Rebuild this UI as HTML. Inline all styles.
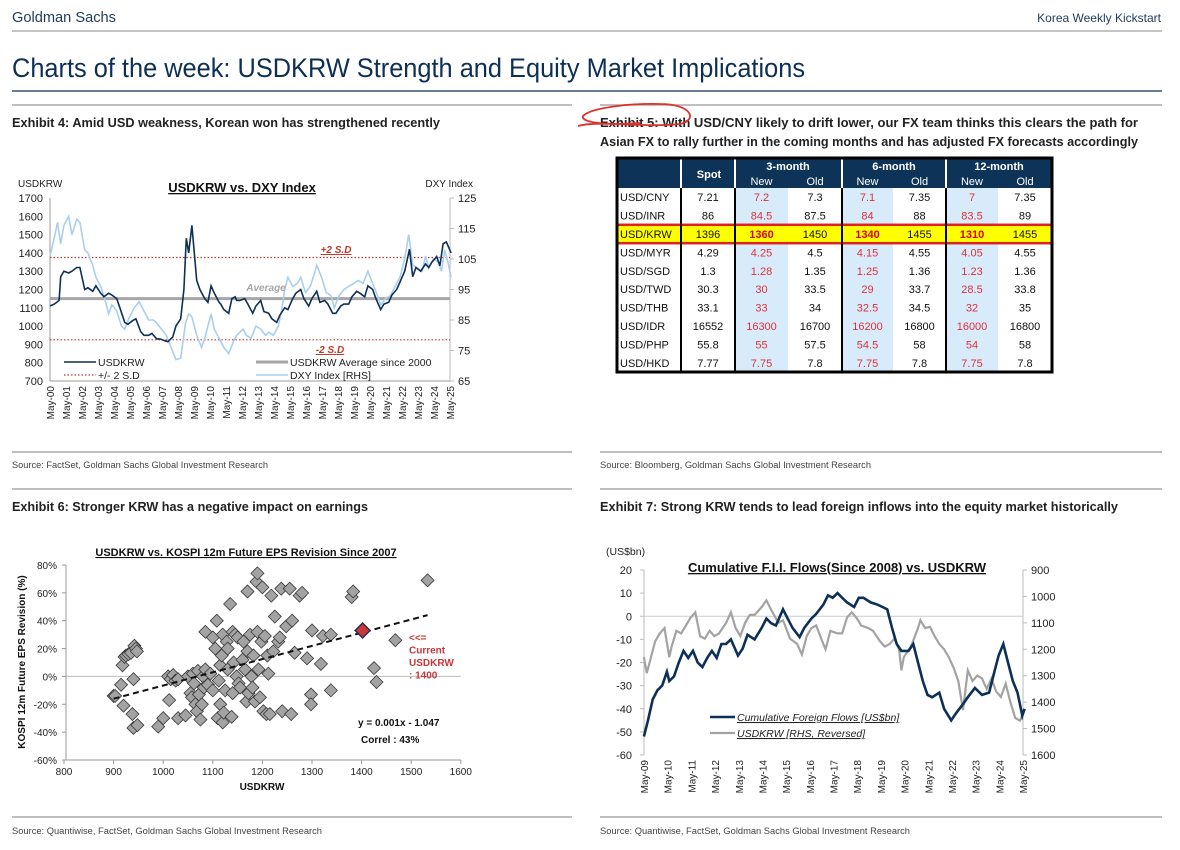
<!DOCTYPE html>
<html><head><meta charset="utf-8"><style>
html,body{margin:0;padding:0;background:#fff;}
svg{display:block;font-family:"Liberation Sans",Arial,sans-serif;}
.nar{font-family:"Liberation Sans Narrow","Liberation Sans",sans-serif;}
</style></head><body>
<svg id="pg" width="1180" height="850" viewBox="0 0 1180 850" xmlns="http://www.w3.org/2000/svg">
<text x="12" y="22" font-size="15" fill="#1d3a5e" class="nar" textLength="104" lengthAdjust="spacingAndGlyphs">Goldman Sachs</text>
<text x="1161" y="22" font-size="12" fill="#1d3a5e" text-anchor="end" class="nar">Korea Weekly Kickstart</text>
<line x1="12" y1="31" x2="1162" y2="31" stroke="#b0b0b0" stroke-width="1.5"/>
<text x="12" y="77" font-size="27" fill="#0d2f54" class="nar" textLength="793" lengthAdjust="spacingAndGlyphs">Charts of the week: USDKRW Strength and Equity Market Implications</text>
<line x1="12" y1="91" x2="1162" y2="91" stroke="#0d2f54" stroke-width="1.2"/>
<line x1="12" y1="105" x2="572" y2="105" stroke="#a8a8a8" stroke-width="1.5"/>
<line x1="600" y1="105" x2="1162" y2="105" stroke="#a8a8a8" stroke-width="1.5"/>
<text x="12" y="127" font-size="13" font-weight="bold" fill="#222" class="nar" textLength="428" lengthAdjust="spacingAndGlyphs">Exhibit 4: Amid USD weakness, Korean won has strengthened recently</text>
<text x="600" y="127" font-size="13" font-weight="bold" fill="#222" class="nar" textLength="538" lengthAdjust="spacingAndGlyphs">Exhibit 5: With USD/CNY likely to drift lower, our FX team thinks this clears the path for</text>
<text x="600" y="146" font-size="13" font-weight="bold" fill="#222" class="nar" textLength="538" lengthAdjust="spacingAndGlyphs">Asian FX to rally further in the coming months and has adjusted FX forecasts accordingly</text>
<path d="M 578 126 C 600 120, 640 128, 680 124 C 698 120, 692 104, 660 104 C 630 103, 590 108, 583 116 C 580 122, 605 126, 640 123" fill="none" stroke="#e0302a" stroke-width="1.8"/>
<line x1="12" y1="452" x2="572" y2="452" stroke="#a8a8a8" stroke-width="1.5"/>
<line x1="600" y1="452" x2="1162" y2="452" stroke="#a8a8a8" stroke-width="1.5"/>
<text x="12" y="468" font-size="9" fill="#444" class="nar" textLength="256" lengthAdjust="spacingAndGlyphs">Source: FactSet, Goldman Sachs Global Investment Research</text>
<text x="600" y="468" font-size="9" fill="#444" class="nar" textLength="271" lengthAdjust="spacingAndGlyphs">Source: Bloomberg, Goldman Sachs Global Investment Research</text>
<line x1="12" y1="489" x2="572" y2="489" stroke="#a8a8a8" stroke-width="1.5"/>
<line x1="600" y1="489" x2="1162" y2="489" stroke="#a8a8a8" stroke-width="1.5"/>
<text x="12" y="511" font-size="13" font-weight="bold" fill="#222" class="nar" textLength="356" lengthAdjust="spacingAndGlyphs">Exhibit 6: Stronger KRW has a negative impact on earnings</text>
<text x="600" y="511" font-size="13" font-weight="bold" fill="#222" class="nar" textLength="518" lengthAdjust="spacingAndGlyphs">Exhibit 7: Strong KRW tends to lead foreign inflows into the equity market historically</text>
<line x1="12" y1="817" x2="572" y2="817" stroke="#a8a8a8" stroke-width="1.5"/>
<line x1="600" y1="817" x2="1162" y2="817" stroke="#a8a8a8" stroke-width="1.5"/>
<text x="12" y="834" font-size="9" fill="#444" class="nar" textLength="310" lengthAdjust="spacingAndGlyphs">Source: Quantiwise, FactSet, Goldman Sachs Global Investment Research</text>
<text x="600" y="834" font-size="9" fill="#444" class="nar" textLength="310" lengthAdjust="spacingAndGlyphs">Source: Quantiwise, FactSet, Goldman Sachs Global Investment Research</text>
<g id="ex4"></g>
<g id="ex5"></g>
<g id="ex6"></g>
<g id="ex7"></g>
</svg>
<script>
// ---------- Exhibit 4 data ----------
const ex4Dates=[2000.33,2000.6,2000.9,2001.0,2001.2,2001.5,2001.7,2002.0,2002.2,2002.5,2002.7,2003.0,2003.2,2003.5,2003.7,2004.0,2004.2,2004.5,2004.7,2005.0,2005.2,2005.5,2005.7,2006.0,2006.2,2006.5,2006.7,2007.0,2007.2,2007.5,2007.7,2008.0,2008.2,2008.5,2008.7,2008.85,2009.0,2009.2,2009.5,2009.7,2010.0,2010.2,2010.4,2010.6,2010.9,2011.0,2011.2,2011.5,2011.7,2011.9,2012.0,2012.2,2012.5,2012.7,2013.0,2013.2,2013.5,2013.7,2014.0,2014.2,2014.5,2014.7,2015.0,2015.2,2015.5,2015.7,2016.0,2016.2,2016.5,2016.7,2017.0,2017.2,2017.5,2017.7,2018.0,2018.2,2018.5,2018.7,2019.0,2019.2,2019.5,2019.7,2020.0,2020.2,2020.5,2020.7,2021.0,2021.2,2021.5,2021.7,2022.0,2022.2,2022.5,2022.8,2023.0,2023.2,2023.5,2023.8,2024.0,2024.2,2024.5,2024.7,2024.9,2025.1,2025.3,2025.4];
const ex4Usdkrw=[1110,1120,1140,1270,1300,1290,1300,1320,1320,1200,1210,1190,1220,1180,1160,1180,1170,1150,1100,1020,1010,1030,1040,970,950,950,960,930,930,920,915,940,1000,1040,1200,1480,1400,1550,1250,1200,1150,1130,1220,1180,1130,1120,1090,1070,1150,1160,1140,1140,1150,1120,1070,1110,1140,1080,1070,1040,1020,1060,1100,1090,1150,1180,1200,1150,1110,1150,1190,1130,1140,1120,1070,1070,1110,1120,1120,1160,1190,1180,1160,1220,1200,1150,1090,1120,1130,1170,1200,1240,1300,1420,1270,1320,1300,1340,1320,1350,1380,1330,1450,1460,1420,1400];
const ex4DxyDates=[2000.33,2000.6,2000.8,2001.0,2001.2,2001.5,2001.7,2002.0,2002.2,2002.5,2002.7,2003.0,2003.2,2003.5,2003.7,2004.0,2004.2,2004.5,2004.8,2005.0,2005.3,2005.6,2005.9,2006.2,2006.5,2006.8,2007.0,2007.3,2007.6,2007.9,2008.2,2008.5,2008.8,2009.0,2009.2,2009.5,2009.8,2010.0,2010.4,2010.6,2010.9,2011.2,2011.5,2011.8,2012.0,2012.4,2012.6,2012.9,2013.2,2013.5,2013.8,2014.0,2014.3,2014.6,2014.8,2015.0,2015.2,2015.5,2015.8,2016.0,2016.3,2016.6,2016.9,2017.0,2017.3,2017.6,2017.9,2018.1,2018.4,2018.7,2019.0,2019.3,2019.6,2019.9,2020.2,2020.5,2020.8,2021.0,2021.3,2021.6,2021.9,2022.2,2022.5,2022.75,2023.0,2023.3,2023.6,2023.8,2024.0,2024.3,2024.6,2024.8,2025.0,2025.2,2025.4];
const ex4Dxy=[106,112,117,110,116,119,113,118,117,108,107,103,99,96,93,87,90,88,83,82,86,89,91,88,85,85,84,82,80,76,72,72.5,84,87,86,80,76,79,87,82,79,76,74,78,80,82,80,79,83,82,80,81,80,83,88,95,99,96,97,99,94,96,101,103,99,94,93,89,93,95,96,97,98,97,101,97,93,90,92,93,96,99,105,113,103,102,101,106,102,105,104,101,108,104,99];
const ex4Average=[1150];
const ex4Bands=[1375,925];
const ex4LeftTicks=[700,800,900,1000,1100,1200,1300,1400,1500,1600,1700];
const ex4RightTicks=[65,75,85,95,105,115,125];
const ex4XLabels=["May-00","May-01","May-02","May-03","May-04","May-05","May-06","May-07","May-08","May-09","May-10","May-11","May-12","May-13","May-14","May-15","May-16","May-17","May-18","May-19","May-20","May-21","May-22","May-23","May-24","May-25"];

// ---------- Exhibit 5 data ----------
const fxPairs=["USD/CNY","USD/INR","USD/KRW","USD/MYR","USD/SGD","USD/TWD","USD/THB","USD/IDR","USD/PHP","USD/HKD"];
const fxSpot=["7.21","86","1396","4.29","1.3","30.3","33.1","16552","55.8","7.77"];
const fx3mNew=["7.2","84.5","1360","4.25","1.28","30","33","16300","55","7.75"];
const fx3mOld=["7.3","87.5","1450","4.5","1.35","33.5","34","16700","57.5","7.8"];
const fx6mNew=["7.1","84","1340","4.15","1.25","29","32.5","16200","54.5","7.75"];
const fx6mOld=["7.35","88","1455","4.55","1.36","33.7","34.5","16800","58","7.8"];
const fx12mNew=["7","83.5","1310","4.05","1.23","28.5","32","16000","54","7.75"];
const fx12mOld=["7.35","89","1455","4.55","1.36","33.8","35","16800","58","7.8"];

// ---------- Exhibit 6 data ----------
const epsX=[900,903,915,918,920,922,925,930,935,938,940,940,942,945,947,948,990,1000,1010,1012,1015,1020,1025,1030,1030,1045,1050,1055,1058,1060,1062,1065,1068,1070,1072,1075,1078,1080,1082,1085,1085,1090,1095,1100,1100,1105,1108,1110,1112,1115,1115,1118,1120,1120,1122,1125,1128,1130,1130,1135,1138,1140,1140,1142,1145,1148,1150,1152,1155,1160,1162,1165,1168,1170,1170,1172,1175,1178,1180,1182,1185,1188,1190,1190,1192,1195,1198,1200,1202,1205,1208,1210,1212,1215,1218,1222,1225,1232,1235,1238,1240,1248,1255,1258,1260,1265,1275,1280,1290,1298,1298,1300,1318,1322,1338,1338,1380,1383,1425,1430,1468,1533];
const epsY=[-14,-14,-6,8,-21,14,15,16,17,-27,-2,-37,22,20,18,-35,-36,-30,0,-17,-2,1,-3,-30,-2,-28,0,-12,-15,2,-5,-20,-25,4,-13,-31,-20,0,-8,5,32,-6,2,28,-10,20,40,-30,-3,-20,8,15,-33,30,-26,-10,25,20,5,52,-29,-12,32,10,30,0,28,-5,-8,12,25,5,-18,61,18,-12,30,0,-8,15,-18,68,74,32,5,-15,25,64,-25,29,-27,15,2,-27,58,18,43,25,28,63,-25,36,63,-27,40,17,58,60,13,-13,-20,33,9,29,-10,30,57,61,6,-4,26,69];
const epsCurrent=[1402,33];
const epsTrendX=[900,1533];
const epsTrendY=[-16,44];
const epsXTicks=[800,900,1000,1100,1200,1300,1400,1500,1600];
const epsYTicks=[-60,-40,-20,0,20,40,60,80];

// ---------- Exhibit 7 data ----------
const flowDates=[2009.33,2009.5,2009.7,2009.9,2010.1,2010.3,2010.4,2010.6,2010.8,2011.0,2011.2,2011.4,2011.6,2011.8,2012.0,2012.2,2012.4,2012.6,2012.8,2013.0,2013.3,2013.5,2013.7,2014.0,2014.3,2014.5,2014.7,2014.9,2015.2,2015.4,2015.6,2015.9,2016.1,2016.4,2016.6,2016.9,2017.1,2017.3,2017.5,2017.7,2017.9,2018.2,2018.4,2018.6,2018.9,2019.2,2019.4,2019.6,2019.8,2020.0,2020.2,2020.5,2020.7,2020.9,2021.1,2021.3,2021.5,2021.8,2022.0,2022.3,2022.5,2022.8,2023.0,2023.3,2023.6,2023.9,2024.1,2024.3,2024.5,2024.7,2024.9,2025.1,2025.3,2025.4];
const flowValues=[-52,-45,-36,-32,-30,-24,-28,-26,-20,-15,-18,-15,-20,-22,-18,-15,-18,-12,-12,-10,-17,-14,-8,-10,-5,-1,-3,-4,3,-1,-5,-9,-5,-1,1,5,9,8,10,8,6,4,8,8,6,5,4,3,-5,-12,-15,-15,-12,-20,-28,-34,-35,-33,-40,-45,-42,-38,-35,-31,-34,-33,-25,-17,-12,-20,-28,-33,-43,-40];
const krwDates=[2009.33,2009.45,2009.6,2009.8,2010.0,2010.2,2010.4,2010.5,2010.7,2010.9,2011.1,2011.3,2011.5,2011.7,2011.9,2012.1,2012.3,2012.5,2012.8,2013.0,2013.2,2013.4,2013.6,2013.8,2014.0,2014.3,2014.5,2014.7,2015.0,2015.2,2015.5,2015.8,2016.0,2016.2,2016.4,2016.6,2016.9,2017.0,2017.2,2017.5,2017.7,2017.9,2018.1,2018.3,2018.5,2018.8,2019.0,2019.3,2019.5,2019.7,2019.9,2020.1,2020.2,2020.3,2020.6,2020.9,2021.0,2021.2,2021.4,2021.6,2021.8,2022.0,2022.2,2022.4,2022.6,2022.8,2023.0,2023.2,2023.4,2023.6,2023.8,2024.0,2024.2,2024.4,2024.6,2024.8,2025.0,2025.2,2025.4];
const krwValues=[1230,1290,1240,1170,1140,1120,1230,1190,1130,1140,1110,1080,1060,1150,1160,1130,1150,1140,1100,1060,1120,1150,1100,1070,1070,1040,1015,1050,1100,1090,1160,1180,1220,1150,1120,1110,1180,1200,1130,1140,1140,1080,1060,1080,1110,1120,1130,1170,1190,1180,1160,1200,1280,1230,1190,1120,1090,1120,1115,1150,1180,1200,1230,1270,1320,1430,1280,1320,1300,1310,1350,1310,1360,1380,1330,1400,1460,1470,1430];
const ex7LeftTicks=[-60,-50,-40,-30,-20,-10,0,10,20];
const ex7RightTicks=[900,1000,1100,1200,1300,1400,1500,1600];
const ex7XLabels=["May-09","May-10","May-11","May-12","May-13","May-14","May-15","May-16","May-17","May-18","May-19","May-20","May-21","May-22","May-23","May-24","May-25"];

const NS="http://www.w3.org/2000/svg";
function mk(tag,attrs,parent,txt){const e=document.createElementNS(NS,tag);for(const k in attrs)e.setAttribute(k,attrs[k]);if(txt!==undefined)e.textContent=txt;parent.appendChild(e);return e;}
function pathOf(xs,ys,fx,fy){return xs.map((x,i)=>(i?"L":"M")+fx(x).toFixed(1)+" "+fy(ys[i]).toFixed(1)).join(" ");}

// ===== Exhibit 4 =====
(function(){
const g=document.getElementById('ex4');
const x=t=>50+(t-2000.333)*16;
const yL=v=>198+(1700-v)*0.183;
const yR=v=>198+(125-v)*(183/60);
let t;
t=mk('text',{x:18,y:187,'font-size':10,fill:'#222'},g,'USDKRW');


t=mk('text',{x:473,y:187,'font-size':10,fill:'#222','text-anchor':'end'},g,'DXY Index');


t=mk('text',{x:242,y:192,'font-size':13,'font-weight':'bold',fill:'#111','text-anchor':'middle','text-decoration':'underline'},g,'USDKRW vs. DXY Index');


ex4LeftTicks.forEach(v=>{
  const l=mk('text',{x:43,y:yL(v)+4,'font-size':11,fill:'#222','text-anchor':'end'},g,String(v));
  
  
});
ex4RightTicks.forEach(v=>{
  const l=mk('text',{x:458,y:yR(v)+4,'font-size':11,fill:'#222'},g,String(v));
  
  
  mk('line',{x1:450,y1:yR(v),x2:454,y2:yR(v),stroke:'#bbb'},g);
});
ex4XLabels.forEach((s,i)=>{
  const px=50+i*16;
  const l=mk('text',{x:0,y:0,'font-size':10,fill:'#222','text-anchor':'end',transform:`translate(${px+4},386) rotate(-90)`},g,s);
  
  
});
let a=mk('line',{x1:50,y1:198,x2:50,y2:381,stroke:'#999'},g);


a=mk('line',{x1:50,y1:381,x2:450,y2:381,stroke:'#999'},g);


a=mk('line',{x1:450,y1:198,x2:450,y2:381,stroke:'#bbb'},g);


let avg=mk('line',{x1:50,y1:yL(ex4Average[0]),x2:450,y2:yL(ex4Average[0]),stroke:'#a6a6a6','stroke-width':3},g);


ex4Bands.forEach(v=>{
  const b=mk('line',{x1:50,y1:yL(v),x2:450,y2:yL(v),stroke:'#c0392b','stroke-width':1.2,'stroke-dasharray':'1.5,2'},g);
  
  
});
let d=mk('path',{d:pathOf(ex4DxyDates,ex4Dxy,x,yR),fill:'none',stroke:'#a9cfee','stroke-width':1.6},g);


let k=mk('path',{d:pathOf(ex4Dates,ex4Usdkrw,x,yL),fill:'none',stroke:'#0e2f56','stroke-width':1.6},g);


t=mk('text',{x:336,y:253,'font-size':10,'font-weight':'bold','font-style':'italic',fill:'#c0392b','text-decoration':'underline','text-anchor':'middle'},g,'+2 S.D');


t=mk('text',{x:330,y:353,'font-size':10,'font-weight':'bold','font-style':'italic',fill:'#c0392b','text-decoration':'underline','text-anchor':'middle'},g,'-2 S.D');


t=mk('text',{x:266,y:291,'font-size':10,'font-weight':'bold','font-style':'italic',fill:'#a6a6a6','text-anchor':'middle'},g,'Average');


// legend
mk('line',{x1:64,y1:362,x2:96,y2:362,stroke:'#0e2f56','stroke-width':1.6},g);
t=mk('text',{x:98,y:366,'font-size':10.5,fill:'#222'},g,'USDKRW');


mk('line',{x1:64,y1:375,x2:96,y2:375,stroke:'#c0392b','stroke-width':1.2,'stroke-dasharray':'1.5,2'},g);
t=mk('text',{x:98,y:379,'font-size':10.5,fill:'#222'},g,'+/- 2 S.D');


mk('line',{x1:256,y1:362,x2:288,y2:362,stroke:'#a6a6a6','stroke-width':3},g);
t=mk('text',{x:290,y:366,'font-size':10.5,fill:'#222'},g,'USDKRW Average since 2000');


mk('line',{x1:256,y1:375,x2:288,y2:375,stroke:'#a9cfee','stroke-width':1.6},g);
t=mk('text',{x:290,y:379,'font-size':10.5,fill:'#222'},g,'DXY Index [RHS]');


})();

// ===== Exhibit 5 table =====
(function(){
const g=document.getElementById('ex5');
const L=617,R=1052,T=158,HB=188,rowH=18.4;
const cols=[[617,681],[681,735],[735,788],[788,842],[842,893],[893,946],[946,998],[998,1052]];
mk('rect',{x:L,y:T,width:R-L,height:HB-T,fill:'#0d3358'},g);
mk('rect',{x:L,y:HB,width:R-L,height:rowH*10,fill:'#fff'},g);
[2,4,6].forEach(c=>{const r=mk('rect',{x:cols[c][0],y:HB,width:cols[c][1]-cols[c][0],height:rowH*10,fill:'#d8ebfa'},g);
 
 });
const ky=HB+rowH*2;
let hl=mk('rect',{x:L,y:ky,width:R-L,height:rowH,fill:'#ffff00',stroke:'#e0201b','stroke-width':2.5},g);


// group separators
[681,735,842,946].forEach(xx=>{mk('line',{x1:xx,y1:T,x2:xx,y2:HB,stroke:'#fff','stroke-width':2},g);mk('line',{x1:xx,y1:HB,x2:xx,y2:HB+rowH*10,stroke:'#000','stroke-width':2},g);});
const heads=[["Spot",709,178],["3-month",788,170],["6-month",894,170],["12-month",999,170]];
heads.forEach(h=>{const e=mk('text',{x:h[1],y:h[2],'font-size':11,'font-weight':'bold',fill:'#fff','text-anchor':'middle'},g,h[0]);
 
 });
[2,3,4,5,6,7].forEach(c=>{const e=mk('text',{x:(cols[c][0]+cols[c][1])/2,y:185,'font-size':11,fill:'#fff','text-anchor':'middle'},g,c%2==0?'New':'Old');
 
 });
const data=[fxSpot,fx3mNew,fx3mOld,fx6mNew,fx6mOld,fx12mNew,fx12mOld];
fxPairs.forEach((p,i)=>{
  const yy=HB+rowH*i+rowH/2+4;
  const krw=i===2;
  const e=mk('text',{x:620,y:yy,'font-size':11,fill:'#111'},g,p);
  
  
  data.forEach((arr,j)=>{
    const c=cols[j+1];
    const isNew=(j===1||j===3||j===5);
    const v=mk('text',{x:(c[0]+c[1])/2,y:yy,'font-size':11,fill:isNew?(krw?'#d00':'#e0303a'):'#111','text-anchor':'middle','font-weight':krw&&isNew?'bold':'normal'},g,arr[i]);
    
    
  });
});
let b=mk('rect',{x:L,y:T,width:R-L,height:HB-T+rowH*10,fill:'none',stroke:'#000','stroke-width':3},g);


})();

// ===== Exhibit 6 =====
(function(){
const g=document.getElementById('ex6');
const x=v=>64+(v-800)*0.496;
const y=p=>565+(80-p)*(195/140);
let t=mk('text',{x:246,y:556,'font-size':11,'font-weight':'bold',fill:'#111','text-anchor':'middle','text-decoration':'underline'},g,'USDKRW vs. KOSPI 12m Future EPS Revision Since 2007');


epsYTicks.forEach(v=>{
  const l=mk('text',{x:57,y:y(v)+4,'font-size':10,fill:'#222','text-anchor':'end'},g,v+'%');
  
  
  mk('line',{x1:62,y1:y(v),x2:66,y2:y(v),stroke:'#999'},g);
});
epsXTicks.forEach(v=>{
  const l=mk('text',{x:x(v),y:775,'font-size':10,fill:'#222','text-anchor':'middle'},g,String(v));
  
  
  mk('line',{x1:x(v),y1:y(-60),x2:x(v),y2:y(-60)+4,stroke:'#999'},g);
});
let a=mk('line',{x1:66,y1:y(80),x2:66,y2:y(-60),stroke:'#999'},g);


a=mk('line',{x1:66,y1:y(-60),x2:x(1600),y2:y(-60),stroke:'#999'},g);


a=mk('line',{x1:66,y1:y(0),x2:x(1600),y2:y(0),stroke:'#bbb'},g);


t=mk('text',{x:0,y:0,'font-size':10,'font-weight':'bold',fill:'#111','text-anchor':'middle',transform:'translate(25,662) rotate(-90)'},g,'KOSPI 12m Future EPS Revision (%)');


t=mk('text',{x:262,y:790,'font-size':10,'font-weight':'bold',fill:'#111','text-anchor':'middle'},g,'USDKRW');


const s=6.5;
epsX.forEach((v,i)=>{
  const cx=x(v),cy=y(epsY[i]);
  const p=mk('path',{d:`M${cx} ${cy-s}L${cx+s} ${cy}L${cx} ${cy+s}L${cx-s} ${cy}Z`,fill:'#a3a3a3',stroke:'#3a3a3a','stroke-width':0.8},g);
  
  
});
let tr=mk('line',{x1:x(epsTrendX[0]),y1:y(epsTrendY[0]),x2:x(epsTrendX[1]),y2:y(epsTrendY[1]),stroke:'#111','stroke-width':2,'stroke-dasharray':'6,4'},g);


const cx=x(epsCurrent[0]),cy=y(epsCurrent[1]);
let cur=mk('path',{d:`M${cx} ${cy-7.5}L${cx+7.5} ${cy}L${cx} ${cy+7.5}L${cx-7.5} ${cy}Z`,fill:'#c9373a',stroke:'#1d2f55','stroke-width':1.4},g);


['<<=','Current','USDKRW',': 1400'].forEach((s2,i)=>{
  const e=mk('text',{x:409,y:641+i*12.5,'font-size':10,'font-weight':'bold',fill:'#c9373a'},g,s2);
  
  
});
t=mk('text',{x:358,y:726,'font-size':10,'font-weight':'bold',fill:'#111'},g,'y = 0.001x - 1.047');


t=mk('text',{x:361,y:743,'font-size':10,'font-weight':'bold',fill:'#111'},g,'Correl : 43%');


})();

// ===== Exhibit 7 =====
(function(){
const g=document.getElementById('ex7');
const x=t=>644+(t-2009.333)*23.69;
const yL=v=>570+(20-v)*(185/80);
const yR=v=>570+(v-900)*(185/700);
let t=mk('text',{x:606,y:555,'font-size':10.5,fill:'#222'},g,'(US$bn)');


t=mk('text',{x:837,y:572,'font-size':13,'font-weight':'bold',fill:'#111','text-anchor':'middle','text-decoration':'underline'},g,'Cumulative F.I.I. Flows(Since 2008) vs. USDKRW');


ex7LeftTicks.forEach(v=>{
  const l=mk('text',{x:632,y:yL(v)+4,'font-size':11,fill:'#222','text-anchor':'end'},g,String(v));
  
  
  mk('line',{x1:640,y1:yL(v),x2:644,y2:yL(v),stroke:'#bbb'},g);
});
ex7RightTicks.forEach(v=>{
  const l=mk('text',{x:1031,y:yR(v)+4,'font-size':11,fill:'#222'},g,String(v));
  
  
  mk('line',{x1:1023,y1:yR(v),x2:1027,y2:yR(v),stroke:'#bbb'},g);
});
ex7XLabels.forEach((s,i)=>{
  const px=644+i*23.69;
  const l=mk('text',{x:0,y:0,'font-size':10,fill:'#222','text-anchor':'end',transform:`translate(${px+4},760) rotate(-90)`},g,s);
  
  
});
let a=mk('line',{x1:644,y1:570,x2:644,y2:755,stroke:'#bbb'},g);


a=mk('line',{x1:1023,y1:570,x2:1023,y2:755,stroke:'#bbb'},g);


a=mk('line',{x1:644,y1:yL(0),x2:1023,y2:yL(0),stroke:'#ccc'},g);


let k=mk('path',{d:pathOf(krwDates,krwValues,x,yR),fill:'none',stroke:'#a3a3a3','stroke-width':2.2},g);


let f=mk('path',{d:pathOf(flowDates,flowValues,x,yL),fill:'none',stroke:'#0e3058','stroke-width':2.6},g);


mk('line',{x1:710,y1:717,x2:735,y2:717,stroke:'#0e3058','stroke-width':2.6},g);
t=mk('text',{x:737,y:721,'font-size':10.5,'font-style':'italic',fill:'#222','text-decoration':'underline'},g,'Cumulative Foreign Flows [US$bn]');


mk('line',{x1:710,y1:733,x2:735,y2:733,stroke:'#a3a3a3','stroke-width':2.2},g);
t=mk('text',{x:737,y:737,'font-size':10.5,'font-style':'italic',fill:'#222','text-decoration':'underline'},g,'USDKRW [RHS, Reversed]');


})();
</script>
</body></html>
